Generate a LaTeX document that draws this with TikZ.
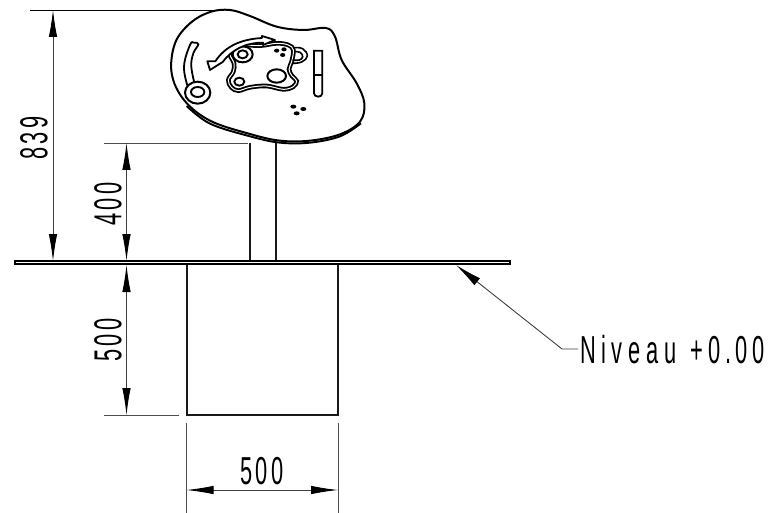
\documentclass[tikz,border=0pt]{standalone}
\usepackage{fontspec}
\usepackage{graphicx}
\usetikzlibrary{arrows.meta}
\newfontfamily\cadfont[LetterSpace=14]{Liberation Sans}
\newfontfamily\cadwide[LetterSpace=26]{Liberation Sans}
\newcommand{\cadtext}[1]{\scalebox{0.56}[1]{\fontsize{39}{39}\selectfont\cadfont #1}}
\newcommand{\cadlong}[2]{\scalebox{0.56}[1]{\fontsize{39}{39}\selectfont\cadwide #1\hspace{0.65em}{\addfontfeature{LetterSpace=22}#2}}}
\tikzset{
  dimline/.style={line width=0.9pt,draw=black!75,{Latex[length=27pt,width=8.5pt,black]}-{Latex[length=27pt,width=8.5pt,black]}},
  extline/.style={line width=0.9pt,draw=black!70},
  solid edge/.style={line width=2pt,draw=black!90},
  feature/.style={line width=1.6pt,draw=black},
  dbl/.style={line width=1.8pt,draw=black,double=white,double distance=1pt},
  dot/.style={fill=black,draw=none},
  lbl/.style={inner sep=0pt,outer sep=0pt,text=black}
}
\begin{document}
\begin{tikzpicture}[x=1pt,y=-1pt]
\useasboundingbox (0,0) rectangle (773,513);
\fill[white] (0,0) rectangle (773,513);
% named points
\coordinate (a839t) at (53,10);
\coordinate (a839b) at (53,261);
\coordinate (a400t) at (126.5,143);
\coordinate (a400b) at (126.5,261);
\coordinate (a500t) at (126.5,265);
\coordinate (a500b) at (126.5,415);
\coordinate (h500l) at (186.5,490);
\coordinate (h500r) at (338,490);
\coordinate (leadtip) at (456,265);
\coordinate (leadknee) at (562,349);
\coordinate (e1a) at (30,10); \coordinate (e1b) at (222,10);
\coordinate (e2a) at (104,143); \coordinate (e2b) at (248,143);
\coordinate (e3a) at (104,415); \coordinate (e3b) at (179,415);
\coordinate (e4a) at (186.5,423); \coordinate (e4b) at (186.5,513);
\coordinate (e5a) at (338,423); \coordinate (e5b) at (338,513);
% extension lines
\draw[extline,draw=black] (e1a) -- (e1b);
\draw[extline] (e2a) -- (e2b);
\draw[extline] (e3a) -- (e3b);
\draw[extline] (e4a) -- (e4b);
\draw[extline] (e5a) -- (e5b);
% pole, base block, ground plate
\draw[solid edge] (249.5,143) -- (249.5,261);
\draw[solid edge] (275.5,143) -- (275.5,261);
\draw[solid edge] (186.5,265) -- (186.5,415) -- (338,415) -- (338,265);
\draw[line width=2pt,draw=black] (15,261) rectangle (510,264);
% dimensions
\draw[dimline] (a839t) -- (a839b);
\draw[dimline] (a400t) -- (a400b);
\draw[dimline] (a500t) -- (a500b);
\draw[dimline] (h500l) -- (h500r);
\draw[line width=0.9pt,draw=black!75,{Latex[length=27pt,width=9pt,black]}-] (leadtip) -- (leadknee) -- (578,349);
\node[lbl,rotate=90] (t839) at (34,138) {\cadtext{839}};
\node[lbl,rotate=90] (t400) at (108,204) {\cadtext{400}};
\node[lbl,rotate=90] (t500a) at (108,340) {\cadtext{500}};
\node[lbl] (t500b) at (262,471) {\cadtext{500}};
\node[lbl,anchor=west] (tniv) at (580,350) {\cadlong{Niveau}{+0.00}};
% table top, drawn in 3x coordinates
\begin{scope}[xshift=160pt,x=0.33333pt,y=-0.33333pt]
\draw[line width=1.9pt] plot[smooth,tension=0.6] coordinates {(80,318) (150,371) (270,409) (360,428) (450,428) (540,409) (603,370)};
\filldraw[fill=white,line width=2pt,draw=black] plot[smooth cycle,tension=0.6] coordinates {
 (210,30) (270,48) (350,80) (430,90) (498,84) (525,110) (545,180) (590,250) (613,310) (600,365) (540,403) (450,422) (360,422) (270,402) (150,362) (72,300) (35,220) (45,130) (90,70) (150,36)};
% plate
\draw[dbl,fill=white] plot[smooth cycle,tension=0.6] coordinates {
 (215,148) (245,135) (300,137) (350,130) (385,135) (400,150) (395,185) (387,208) (396,228) (410,243) (400,260) (370,268) (320,258) (270,262) (235,272) (214,262) (205,240) (220,215) (222,190) (210,165)};
\draw[feature] plot[smooth,tension=0.7] coordinates {(400,143) (428,146) (442,168) (425,186) (397,190)};
\draw[feature] plot[smooth,tension=0.7] coordinates {(403,155) (420,157) (428,170) (418,180) (398,180)};
\draw[line width=2pt] (248,163) ellipse [x radius=30,y radius=24];
\draw[line width=1.9pt] (248,163) ellipse [x radius=15,y radius=12];
\draw[line width=2pt] (350,228) ellipse [x radius=28,y radius=20];
\draw[line width=1.9pt] (238,245) ellipse [x radius=15,y radius=12];
\fill[dot] (350,152) ellipse [x radius=8,y radius=6];
\fill[dot] (372,148) ellipse [x radius=8,y radius=6];
\fill[dot] (368,165) ellipse [x radius=8,y radius=6];
\fill[dot] (400,320) ellipse [x radius=9,y radius=6];
\fill[dot] (430,327) ellipse [x radius=9,y radius=6];
\fill[dot] (410,340) ellipse [x radius=9,y radius=6];
% right slot
\draw[line width=1.8pt] (462,152) -- (487,152) -- (487,280) arc[start angle=0,end angle=-180,x radius=12.5,y radius=-10] -- cycle;
\draw[line width=1.6pt] (462,225) -- (487,225);
% left slot with circle
\draw[line width=1.8pt] plot[smooth,tension=0.7] coordinates {(84,262) (72,200) (90,135) (102,128) (115,133) (100,160) (94,200) (105,256)};
\draw[line width=2pt,fill=white] (113,278) ellipse [x radius=38,y radius=33];
\draw[line width=1.9pt] (113,276) ellipse [x radius=20,y radius=15];
% rotation arrow
\draw[line width=1.8pt,fill=white,line join=round] (306,108) -- (345,120) -- (309,135) -- (309,128)
  .. controls (255,128) and (215,150) .. (188,186) -- (150,210) -- (142,184) -- (166,184)
  .. controls (195,140) and (240,118) .. (306,114) -- cycle;
\end{scope}
\end{tikzpicture}
\end{document}
